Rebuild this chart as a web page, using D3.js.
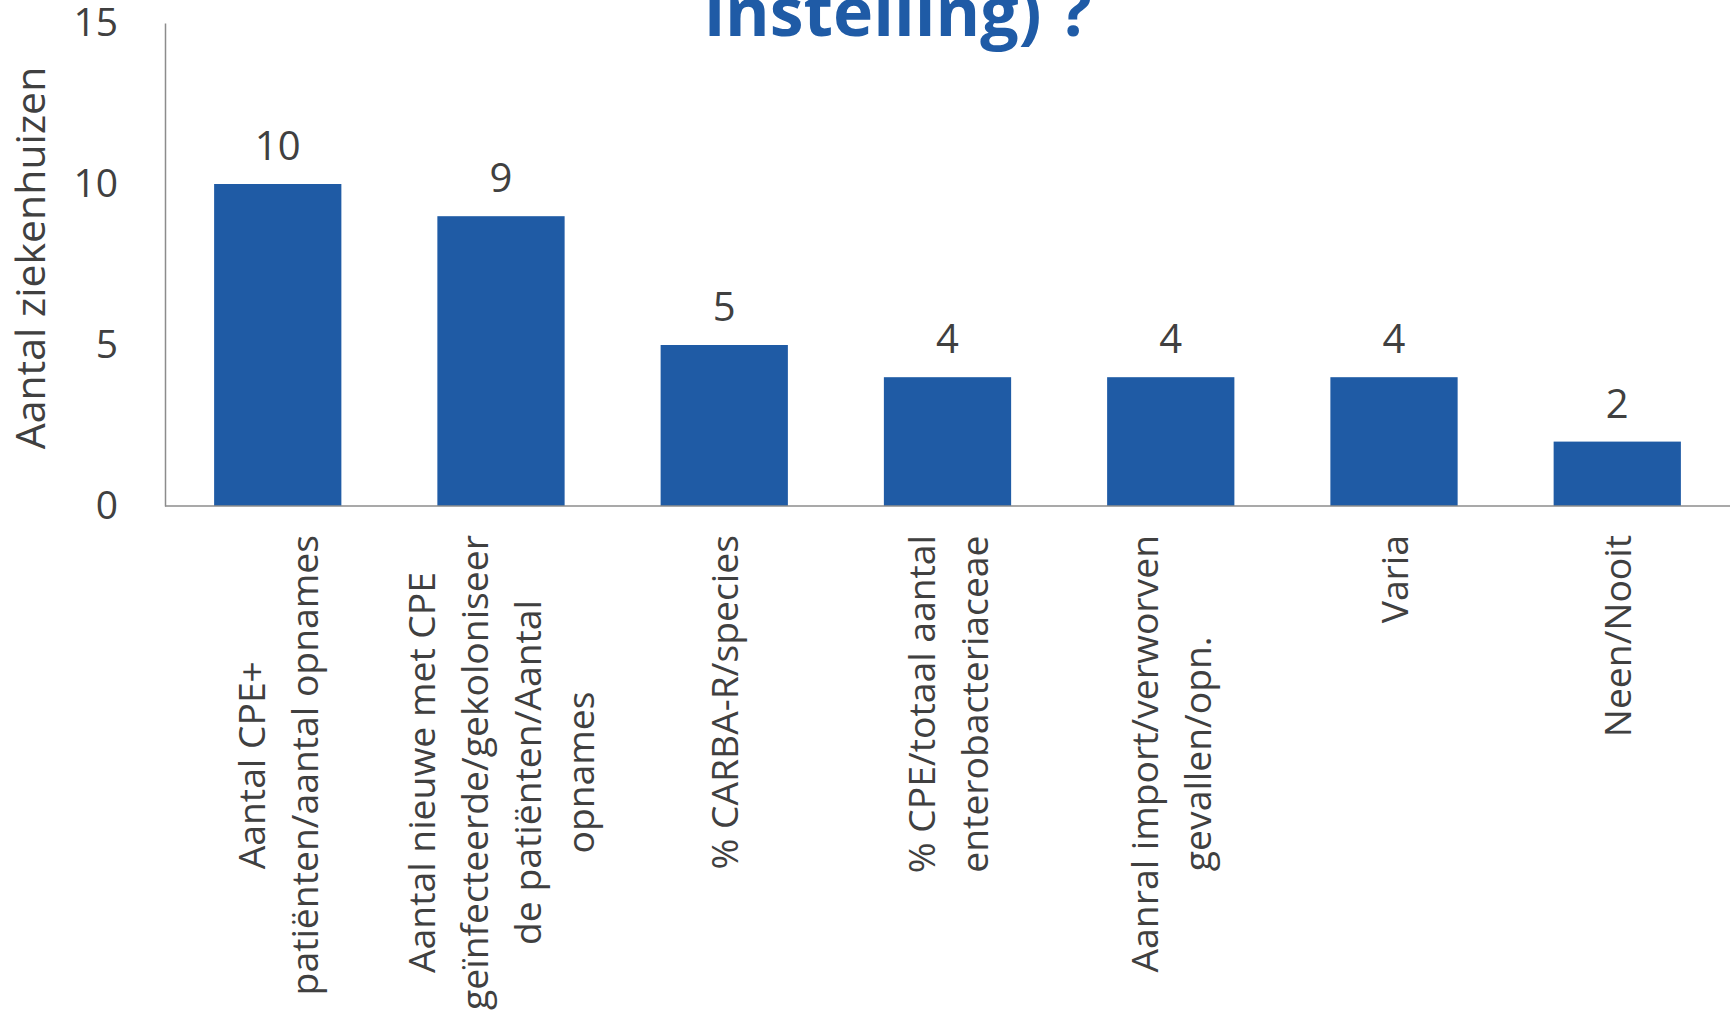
<!DOCTYPE html>
<html>
<head>
<meta charset="utf-8">
<script src="https://cdn.jsdelivr.net/npm/d3@7"></script>
<style>
  html, body { margin: 0; padding: 0; background: #fff; }
  svg { display: block; font-family: "Open Sans", sans-serif; }
</style>
</head>
<body>
<div id="chart"></div>
<script>
/* Data */
var categories = [
  ["Aantal CPE+", "patiënten/aantal opnames"],
  ["Aantal nieuwe met CPE", "geïnfecteerde/gekoloniseer", "de patiënten/Aantal", "opnames"],
  ["% CARBA-R/species"],
  ["% CPE/totaal aantal", "enterobacteriaceae"],
  ["Aanral import/verworven", "gevallen/opn."],
  ["Varia"],
  ["Neen/Nooit"]
];
var values = [10, 9, 5, 4, 4, 4, 2];
var yTicks = [0, 5, 10, 15];
var titleText = "instelling) ?";
var yTitle = "Aantal ziekenhuizen";

var width = 1736,
    height = 1012;

var textColor = "#404040",
    barColor = "#1f5ba5",
    axisColor = "#8c8c8c";

var svg = d3.select("#chart").append("svg")
  .attr("width", width)
  .attr("height", height);

var x = d3.scaleBand()
  .domain(d3.range(values.length))
  .range([165, 1730])
  .paddingInner(0.43)
  .paddingOuter(0.22);

var y = d3.scaleLinear()
  .domain([0, 15])
  .range([506, 23]);

// title (only its last line falls inside the frame)
svg.append("text")
  .attr("x", 898)
  .attr("y", 36)
  .attr("text-anchor", "middle")
  .style("font-size", "68px")
  .style("font-weight", "bold")
  .style("fill", "#1f5ba6")
  .text(titleText);

// y axis
var yAxis = svg.append("g")
  .attr("transform", "translate(165,0)")
  .call(d3.axisLeft(y).tickValues(yTicks).tickSize(0).tickPadding(47));
yAxis.select(".domain").attr("stroke", axisColor).attr("stroke-width", 1.5);
yAxis.selectAll("text")
  .style("font-family", "Open Sans, sans-serif")
  .style("font-size", "39px")
  .style("fill", textColor);

svg.append("text")
  .attr("transform", "translate(45,258) rotate(-90)")
  .attr("text-anchor", "middle")
  .style("font-size", "41px")
  .style("fill", textColor)
  .text(yTitle);

// bars
svg.selectAll("rect.bar")
  .data(values)
  .enter().append("rect")
  .attr("class", "bar")
  .attr("x", function(d, i) { return x(i); })
  .attr("y", function(d) { return y(d); })
  .attr("width", x.bandwidth())
  .attr("height", function(d) { return y(0) - y(d); })
  .style("fill", barColor);

// value labels
svg.selectAll("text.val")
  .data(values)
  .enter().append("text")
  .attr("class", "val")
  .attr("x", function(d, i) { return x(i) + x.bandwidth() / 2; })
  .attr("y", function(d) { return y(d) - 24; })
  .attr("text-anchor", "middle")
  .style("font-size", "40px")
  .style("fill", textColor)
  .text(function(d) { return d; });

// x axis baseline
svg.append("line")
  .attr("x1", 165).attr("x2", 1730)
  .attr("y1", y(0)).attr("y2", y(0))
  .attr("stroke", axisColor)
  .attr("stroke-width", 1.5);

// category labels, rotated, lines centered on the longest one
var lineH = 53, labelTop = 535;
categories.forEach(function(lines, i) {
  var cx = x(i) + x.bandwidth() / 2;
  var g = svg.append("g");
  var nodes = lines.map(function(t) {
    return g.append("text")
      .attr("text-anchor", "middle")
      .style("font-size", "37.3px")
      .style("fill", textColor)
      .text(t);
  });
  var maxLen = d3.max(nodes, function(n) { return n.node().getComputedTextLength(); });
  var cy = labelTop + maxLen / 2;
  nodes.forEach(function(n, j) {
    var bx = cx + (j - (lines.length - 1) / 2) * lineH + 14;
    n.attr("transform", "translate(" + bx + "," + cy + ") rotate(-90)");
  });
});
</script>
</body>
</html>
